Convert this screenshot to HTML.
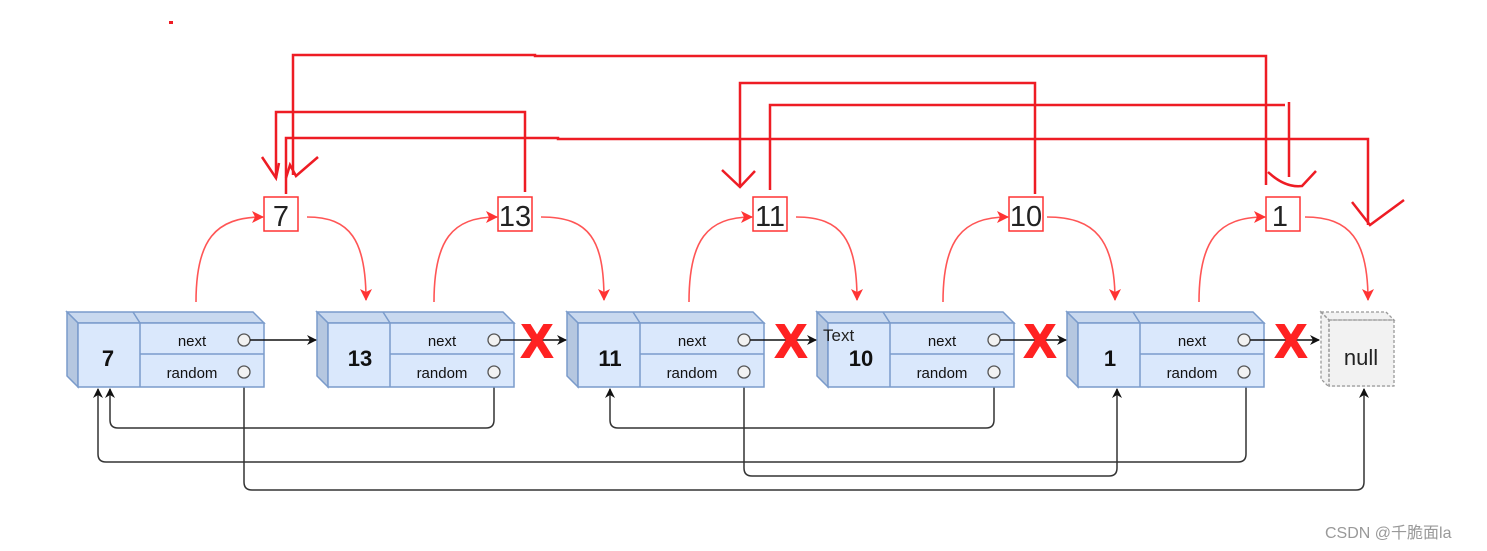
<!DOCTYPE html>
<html><head><meta charset="utf-8"><style>
html,body{margin:0;padding:0;background:#fff;width:1487px;height:551px;overflow:hidden}
svg{display:block}
text{font-family:"Liberation Sans",sans-serif}
</style></head><body>
<svg width="1487" height="551" viewBox="0 0 1487 551" xmlns="http://www.w3.org/2000/svg">
<defs>
<marker id="ab" markerWidth="10" markerHeight="10" refX="9" refY="5" orient="auto" markerUnits="userSpaceOnUse"><path d="M0,0 L10,5 L0,10 L3,5 Z" fill="#111"/></marker>
<marker id="ar" markerWidth="12" markerHeight="12" refX="11" refY="6" orient="auto" markerUnits="userSpaceOnUse"><path d="M0,0 L12,6 L0,12 L3,6 Z" fill="#f33"/></marker>
<g id="node">
<polygon points="0,0 186,0 197,11 11,11" fill="#c9d9ef" stroke="#7a9bcb" stroke-width="1.5"/>
<polygon points="0,0 11,11 11,75 0,64" fill="#b5c7e0" stroke="#7a9bcb" stroke-width="1.5"/>
<rect x="11" y="11" width="186" height="64" fill="#dae8fc" stroke="#7a9bcb" stroke-width="1.5"/>
<line x1="66" y1="0" x2="73" y2="11" stroke="#7a9bcb" stroke-width="1.5"/>
<line x1="73" y1="11" x2="73" y2="75" stroke="#7a9bcb" stroke-width="1.5"/>
<line x1="73" y1="42" x2="197" y2="42" stroke="#7a9bcb" stroke-width="1.5"/>
<text x="125" y="34" font-size="15" text-anchor="middle" fill="#111">next</text>
<text x="125" y="66" font-size="15" text-anchor="middle" fill="#111">random</text>
<circle cx="177" cy="28" r="6" fill="#f2f2f2" stroke="#555" stroke-width="1.3"/>
<circle cx="177" cy="60" r="6" fill="#f2f2f2" stroke="#555" stroke-width="1.3"/>
</g>
</defs>

<g fill="none" stroke="#333" stroke-width="1.5" marker-end="url(#ab)">
<path d="M494,378 V420 Q494,428 486,428 H118 Q110,428 110,420 V389"/>
<path d="M1246,378 V454 Q1246,462 1238,462 H106 Q98,462 98,454 V389"/>
<path d="M244,378 V482 Q244,490 252,490 H1356 Q1364,490 1364,482 V389"/>
<path d="M744,378 V468 Q744,476 752,476 H1109 Q1117,476 1117,468 V389"/>
<path d="M994,378 V420 Q994,428 986,428 H618 Q610,428 610,420 V389"/>
</g>

<use href="#node" x="67" y="312"/>
<use href="#node" x="317" y="312"/>
<use href="#node" x="567" y="312"/>
<use href="#node" x="817" y="312"/>
<use href="#node" x="1067" y="312"/>
<g font-size="22" font-weight="bold" fill="#111" text-anchor="middle">
<text x="108" y="366">7</text>
<text x="360" y="366">13</text>
<text x="610" y="366">11</text>
<text x="861" y="366">10</text>
<text x="1110" y="366">1</text>
</g>
<text x="823" y="341" font-size="17" fill="#222">Text</text>

<polygon points="1321,312 1386,312 1394,320 1394,387 1329,387 1321,379" fill="#f2f2f2"/>
<g fill="none" stroke="#999" stroke-width="1.3" stroke-dasharray="3,2">
<polygon points="1321,312 1386,312 1394,320 1329,320"/>
<polygon points="1321,312 1329,320 1329,387 1321,379"/>
<rect x="1329" y="320" width="65" height="66"/>
</g>
<text x="1361" y="365" font-size="22" text-anchor="middle" fill="#222">null</text>

<g stroke="#111" stroke-width="1.5" marker-end="url(#ab)">
<line x1="250" y1="340" x2="316" y2="340"/>
<line x1="500" y1="340" x2="566" y2="340"/>
<line x1="750" y1="340" x2="816" y2="340"/>
<line x1="1000" y1="340" x2="1066" y2="340"/>
<line x1="1250" y1="340" x2="1319" y2="340"/>
</g>
<g font-size="46" font-weight="bold" fill="#f22" stroke="#f22" stroke-width="2" text-anchor="middle">
<text x="537" y="357">X</text>
<text x="791" y="357">X</text>
<text x="1040" y="357">X</text>
<text x="1291" y="357">X</text>
</g>

<g fill="#fff" stroke="#f33" stroke-width="1.5">
<rect x="264" y="197" width="34" height="34"/>
<rect x="498" y="197" width="34" height="34"/>
<rect x="753" y="197" width="34" height="34"/>
<rect x="1009" y="197" width="34" height="34"/>
<rect x="1266" y="197" width="34" height="34"/>
</g>
<g font-size="29" fill="#222" text-anchor="middle">
<text x="281" y="226">7</text>
<text x="515" y="226">13</text>
<text x="770" y="226">11</text>
<text x="1026" y="226">10</text>
<text x="1280" y="226">1</text>
</g>

<g fill="none" stroke="#f55" stroke-width="1.6" marker-end="url(#ar)">
<path d="M196,302 C196,240 215,217 263,217"/>
<path d="M307,217 C350,217 366,240 366,300"/>
<path d="M434,302 C434,240 452,217 497,217"/>
<path d="M541,217 C590,217 604,240 604,300"/>
<path d="M689,302 C689,240 707,217 752,217"/>
<path d="M796,217 C842,217 857,240 857,300"/>
<path d="M943,302 C943,240 962,217 1008,217"/>
<path d="M1047,217 C1095,217 1115,240 1115,300"/>
<path d="M1199,302 C1199,240 1218,217 1265,217"/>
<path d="M1305,217 C1350,217 1368,240 1368,300"/>
</g>

<g fill="none" stroke="#ee1c24" stroke-width="2.5">
<path d="M293,175 V55 H535 V56 H1266 V185"/>
<path d="M276,178 V112 H525 V192"/>
<path d="M286,194 V138 H558 V139 H1368 V225"/>
<path d="M740,187 V83 H1035 V194"/>
<path d="M770,190 V105 H1285 M1289,102 V177"/>
<path d="M262,157 L276,178 L279,163 M286,178 L290,165 L296,176 L318,157"/>
<path d="M722,170 L740,187 L755,171"/>
<path d="M1268,172 Q1285,188 1302,186 L1316,171"/>
<path d="M1352,202 L1370,225 L1404,200"/>
</g>
<rect x="169" y="21" width="4" height="3" fill="#ee1c24"/>

<text x="1325" y="538" font-size="16" fill="#999" font-family="Liberation Sans, Noto Sans CJK SC, sans-serif">CSDN @千脆面la</text>
</svg>
</body></html>
